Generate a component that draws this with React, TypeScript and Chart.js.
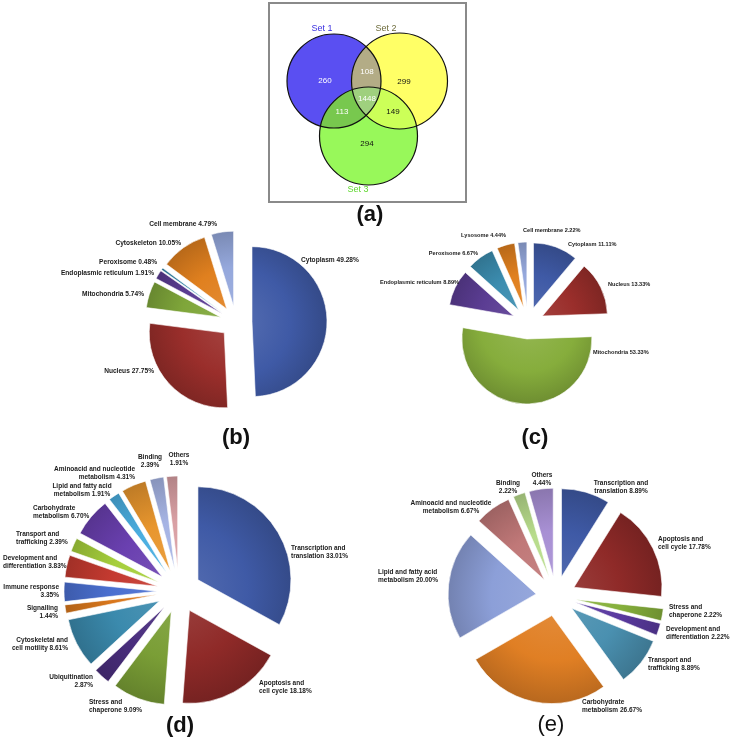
import React, { useEffect, useRef } from 'react';
import { Chart, registerables } from 'chart.js';
Chart.register(...registerables);

// ---------- DATA ----------
// (a) Venn
const VENN_SETS = ['Set 1', 'Set 2', 'Set 3'];
// regions: only1, only2, only3, 1∩2, 1∩3, 2∩3, 1∩2∩3
const VENN_COUNTS = [260, 299, 294, 108, 113, 149, 1448];

// (b)
const B_CATS = ['Cytoplasm', 'Nucleus', 'Mitochondria', 'Endoplasmic reticulum', 'Peroxisome', 'Cytoskeleton', 'Cell membrane'];
const B_VALUES = [49.28, 27.75, 5.74, 1.91, 0.48, 10.05, 4.79];

// (c)
const C_CATS = ['Cytoplasm', 'Nucleus', 'Mitochondria', 'Endoplasmic reticulum', 'Peroxisome', 'Lysosome', 'Cell membrane'];
const C_VALUES = [11.11, 13.33, 53.33, 8.89, 6.67, 4.44, 2.22];

// (d)
const D_CATS = [
  'Transcription and translation', 'Apoptosis and cell cycle', 'Stress and chaperone', 'Ubiquitination',
  'Cytoskeletal and cell motility', 'Signalling', 'Immune response', 'Development and differentiation',
  'Transport and trafficking', 'Carbohydrate metabolism', 'Lipid and fatty acid metabolism',
  'Aminoacid and nucleotide metabolism', 'Binding', 'Others',
];
const D_VALUES = [33.01, 18.18, 9.09, 2.87, 8.61, 1.44, 3.35, 3.83, 2.39, 6.70, 1.91, 4.31, 2.39, 1.91];

// (e)
const E_CATS = [
  'Transcription and translation', 'Apoptosis and cell cycle', 'Stress and chaperone', 'Development and differentiation',
  'Transport and trafficking', 'Carbohydrate metabolism', 'Lipid and fatty acid metabolism',
  'Aminoacid and nucleotide metabolism', 'Binding', 'Others',
];
const E_VALUES = [8.89, 17.78, 2.22, 2.22, 8.89, 26.67, 20.00, 6.67, 2.22, 4.44];

// ---------- STYLE / LAYOUT ----------
const FONT = '"Liberation Sans", Arial, Helvetica, sans-serif';

const VENN_BOX = { left: 269, top: 3, width: 195, height: 197 };
const VENN_CIRCLES = [
  { x: 334, y: 81, r: 47 },
  { x: 399.5, y: 81, r: 48 },
  { x: 368.5, y: 136, r: 49 },
];
const VENN_SET_COLORS = ['#5a4ff2', '#ffff66', '#98f85a'];
const VENN_OVERLAP_COLORS = { '12': '#b3ac86', '13': '#78c84e', '23': '#ccff58', '123': '#9fd07e' };
const VENN_SET_LABEL_POS = [
  { x: 322, y: 29, color: '#3b30e0' },
  { x: 386, y: 29, color: '#6e6c3c' },
  { x: 358, y: 190, color: '#5fd82e' },
];
const VENN_COUNT_POS = [
  { x: 325, y: 81, color: '#ffffff' },
  { x: 404, y: 82, color: '#111111' },
  { x: 367, y: 144, color: '#111111' },
  { x: 367, y: 72, color: '#ffffff' },
  { x: 342, y: 112, color: '#ffffff' },
  { x: 393, y: 112, color: '#111111' },
  { x: 367, y: 99, color: '#ffffff' },
];

const B_COLORS = ['#3f5aa6', '#9a2e2b', '#7fa63a', '#5b3d93', '#3c8db0', '#e0801f', '#95a8dc'];
const C_COLORS = ['#3f5aa6', '#9a2e2b', '#86ad3c', '#5b3d93', '#3c8db0', '#e0801f', '#95a8dc'];
const D_COLORS = ['#3f5aa6', '#8f2a28', '#7a9e36', '#4a2e7e', '#3b8aad', '#d9771c', '#4a6fd0', '#c43a30',
  '#a6cf3c', '#6a40b0', '#4aaee0', '#e8962e', '#a6b4e4', '#d9a0a4'];
const E_COLORS = ['#3f5aa6', '#8f2a28', '#86b03c', '#5a3aa0', '#4a90b0', '#e07f24', '#8c9fd8', '#c07878', '#b8dc8c', '#a890d4'];

type LPos = [number, number, CanvasTextAlign, number?];
// label anchors relative to pie centre: dx, dy, align, words on first line
const B_LABELS: LPos[] = [
  [65, -62, 'left'], [-82, 49, 'right'], [-92, -28, 'right'], [-82, -49, 'right'],
  [-79, -60, 'right'], [-55, -79, 'right'], [-19, -98, 'right'],
];
const C_LABELS: LPos[] = [
  [40, -79, 'left'], [80, -39, 'left'], [65, 29, 'left'], [-69, -41, 'right'],
  [-50, -70, 'right'], [-22, -88, 'right'], [-5, -93, 'left'],
];
const D_LABELS: LPos[] = [
  [112, -43, 'left', 2], [80, 92, 'left', 2], [-90, 111, 'left', 2], [-86, 86, 'right', 1],
  [-111, 49, 'right', 2], [-121, 17, 'right', 1], [-120, -4, 'right', 2], [-176, -33, 'left', 2],
  [-163, -57, 'left', 2], [-146, -83, 'left', 1], [-97, -105, 'center', 4], [-44, -122, 'right', 3],
  [-29, -134, 'center', 1], [0, -136, 'center', 1],
];
const E_LABELS: LPos[] = [
  [65, -113, 'center', 2], [102, -57, 'left', 2], [113, 11, 'left', 2], [110, 33, 'left', 2],
  [92, 64, 'left', 2], [26, 106, 'left', 1], [-178, -24, 'left', 4], [-105, -93, 'center', 3],
  [-48, -113, 'center', 1], [-14, -121, 'center', 1],
];

type Box = { left: number; top: number; width: number; height: number };

function shade(hex: string, amt: number) {
  const n = parseInt(hex.slice(1), 16);
  const r = (n >> 16) & 255, g = (n >> 8) & 255, b = n & 255;
  const f = (c: number) => Math.round(amt >= 0 ? c + (255 - c) * amt : c * (1 + amt));
  return `rgb(${f(r)},${f(g)},${f(b)})`;
}

function pieCenter(chart: any) {
  const a = chart.chartArea;
  return { x: (a.left + a.right) / 2, y: (a.top + a.bottom) / 2 };
}

// moves each slice outward along its mid angle (explode), keeping its radius
function makeExplodePlugin(dist: number) {
  return {
    id: 'explode',
    afterDatasetUpdate(chart: any, args: any) {
      const meta = chart.getDatasetMeta(args.index);
      meta.data.forEach((el: any) => {
        const half = (el.startAngle + el.endAngle) / 2;
        el.x += Math.cos(half) * dist;
        el.y += Math.sin(half) * dist;
      });
    },
  };
}

function makeLabelPlugin(cats: string[], values: number[], pos: LPos[], font: string, lineH: number) {
  return {
    id: 'sliceLabels',
    afterDraw(chart: any) {
      const c = pieCenter(chart);
      const ctx = chart.ctx as CanvasRenderingContext2D;
      ctx.save();
      ctx.font = font;
      ctx.fillStyle = '#1a1a1a';
      ctx.textBaseline = 'middle';
      cats.forEach((name, i) => {
        const [dx, dy, align, split] = pos[i];
        const full = `${name} ${values[i].toFixed(2)}%`;
        const words = full.split(' ');
        const lines = split ? [words.slice(0, split).join(' '), words.slice(split).join(' ')] : [full];
        ctx.textAlign = align;
        lines.forEach((ln, k) => ctx.fillText(ln, c.x + dx, c.y + dy + k * lineH));
      });
      ctx.restore();
    },
  };
}

function PiePanel(props: {
  box: Box; center: [number, number]; radius: number; offset: number;
  cats: string[]; values: number[]; colors: string[]; labels: LPos[]; font: string; lineH: number;
}) {
  const ref = useRef<HTMLCanvasElement>(null);
  const { box, center, radius, offset, cats, values, colors, labels, font, lineH } = props;
  useEffect(() => {
    const lx = center[0] - box.left;
    const ly = center[1] - box.top;
    const padding = {
      left: Math.max(0, 2 * lx - box.width),
      right: Math.max(0, box.width - 2 * lx),
      top: Math.max(0, 2 * ly - box.height),
      bottom: Math.max(0, box.height - 2 * ly),
    };
    const bg = (ctx: any) => {
      const base = colors[ctx.dataIndex];
      const chart = ctx.chart;
      if (!chart.chartArea) return base;
      const c = pieCenter(chart);
      const g = chart.ctx.createRadialGradient(c.x, c.y, 0, c.x, c.y, radius + offset);
      g.addColorStop(0, shade(base, 0.12));
      g.addColorStop(0.6, base);
      g.addColorStop(1, shade(base, -0.18));
      return g;
    };
    const chart = new Chart(ref.current!, {
      type: 'pie',
      data: {
        labels: cats,
        datasets: [{
          data: values,
          backgroundColor: bg,
          borderColor: 'rgba(255,255,255,0.6)',
          borderWidth: 1,
          radius,
        } as any],
      },
      options: {
        responsive: false,
        animation: false,
        devicePixelRatio: 1,
        layout: { padding, autoPadding: false },
        plugins: { legend: { display: false }, tooltip: { enabled: false } },
      } as any,
      plugins: [makeExplodePlugin(offset), makeLabelPlugin(cats, values, labels, font, lineH)],
    });
    return () => chart.destroy();
  }, []);
  return (
    <canvas
      ref={ref}
      width={box.width}
      height={box.height}
      style={{ position: 'absolute', left: box.left, top: box.top, width: box.width, height: box.height }}
    />
  );
}

function VennPanel() {
  const ref = useRef<HTMLCanvasElement>(null);
  useEffect(() => {
    const B = VENN_BOX;
    const vennPlugin = {
      id: 'venn',
      afterDatasetsDraw(chart: any) {
        const els = chart.getDatasetMeta(0).data;
        const ctx = chart.ctx as CanvasRenderingContext2D;
        const circ = (i: number) => {
          const e = els[i];
          ctx.beginPath();
          ctx.arc(e.x, e.y, e.options.radius, 0, Math.PI * 2);
        };
        const pairs: [number, number, string][] = [[0, 1, '12'], [0, 2, '13'], [1, 2, '23']];
        pairs.forEach(([i, j, k]) => {
          ctx.save();
          circ(i); ctx.clip();
          circ(j); ctx.fillStyle = (VENN_OVERLAP_COLORS as any)[k]; ctx.fill();
          ctx.restore();
        });
        ctx.save();
        circ(0); ctx.clip();
        circ(1); ctx.clip();
        circ(2); ctx.fillStyle = VENN_OVERLAP_COLORS['123']; ctx.fill();
        ctx.restore();
        ctx.save();
        ctx.strokeStyle = '#111';
        ctx.lineWidth = 1.2;
        [0, 1, 2].forEach((i) => { circ(i); ctx.stroke(); });
        ctx.textAlign = 'center';
        ctx.textBaseline = 'middle';
        ctx.font = `8px ${FONT}`;
        VENN_COUNTS.forEach((v, i) => {
          const p = VENN_COUNT_POS[i];
          ctx.fillStyle = p.color;
          ctx.fillText(String(v), p.x - B.left, p.y - B.top);
        });
        ctx.font = `9px ${FONT}`;
        VENN_SETS.forEach((s, i) => {
          const p = VENN_SET_LABEL_POS[i];
          ctx.fillStyle = p.color;
          ctx.fillText(s, p.x - B.left, p.y - B.top);
        });
        ctx.restore();
      },
    };
    const chart = new Chart(ref.current!, {
      type: 'bubble',
      data: {
        datasets: [{
          label: 'Venn',
          data: VENN_CIRCLES.map((c) => ({ x: c.x - B.left, y: c.y - B.top, r: c.r })),
          backgroundColor: VENN_SET_COLORS,
          borderWidth: 0,
          clip: false,
        } as any],
      },
      options: {
        responsive: false,
        animation: false,
        devicePixelRatio: 1,
        layout: { padding: 0, autoPadding: false },
        scales: {
          x: { type: 'linear', min: 0, max: B.width, display: false },
          y: { type: 'linear', min: 0, max: B.height, reverse: true, display: false },
        },
        plugins: { legend: { display: false }, tooltip: { enabled: false } },
      } as any,
      plugins: [vennPlugin],
    });
    return () => chart.destroy();
  }, []);
  const B = VENN_BOX;
  return (
    <>
      <div style={{
        position: 'absolute', left: B.left - 1, top: B.top - 1, width: B.width, height: B.height,
        border: '2px solid #8a8a8a', boxSizing: 'content-box',
      }} />
      <canvas
        ref={ref}
        width={B.width}
        height={B.height}
        style={{ position: 'absolute', left: B.left, top: B.top, width: B.width, height: B.height }}
      />
    </>
  );
}

function PanelLetter({ text, x, y, weight = 'bold' }: { text: string; x: number; y: number; weight?: string }) {
  return (
    <div style={{
      position: 'absolute', left: x - 40, top: y - 13, width: 80, height: 26, lineHeight: '26px',
      textAlign: 'center', fontFamily: FONT, fontWeight: weight as any, fontSize: 22, color: '#111',
    }}>{text}</div>
  );
}

export default function App() {
  return (
    <div style={{ position: 'absolute', left: 0, top: 0, width: 734, height: 739, background: '#fff', overflow: 'hidden' }}>
      <VennPanel />
      <PiePanel box={{ left: 0, top: 215, width: 368, height: 212 }} center={[236, 322]} radius={75} offset={16}
        cats={B_CATS} values={B_VALUES} colors={B_COLORS} labels={B_LABELS} font={`bold 6.6px ${FONT}`} lineH={8} />
      <PiePanel box={{ left: 368, top: 215, width: 366, height: 212 }} center={[528, 323]} radius={65} offset={16}
        cats={C_CATS} values={C_VALUES} colors={C_COLORS} labels={C_LABELS} font={`bold 5.6px ${FONT}`} lineH={7} />
      <PiePanel box={{ left: 0, top: 440, width: 368, height: 278 }} center={[179, 591]} radius={93} offset={22}
        cats={D_CATS} values={D_VALUES} colors={D_COLORS} labels={D_LABELS} font={`bold 6.5px ${FONT}`} lineH={8} />
      <PiePanel box={{ left: 368, top: 440, width: 366, height: 278 }} center={[556, 596]} radius={88} offset={20}
        cats={E_CATS} values={E_VALUES} colors={E_COLORS} labels={E_LABELS} font={`bold 6.5px ${FONT}`} lineH={8} />
      <PanelLetter text="(a)" x={370} y={214} />
      <PanelLetter text="(b)" x={236} y={437} />
      <PanelLetter text="(c)" x={535} y={437} />
      <PanelLetter text="(d)" x={180} y={725} />
      <PanelLetter text="(e)" x={551} y={724} weight="normal" />
    </div>
  );
}
